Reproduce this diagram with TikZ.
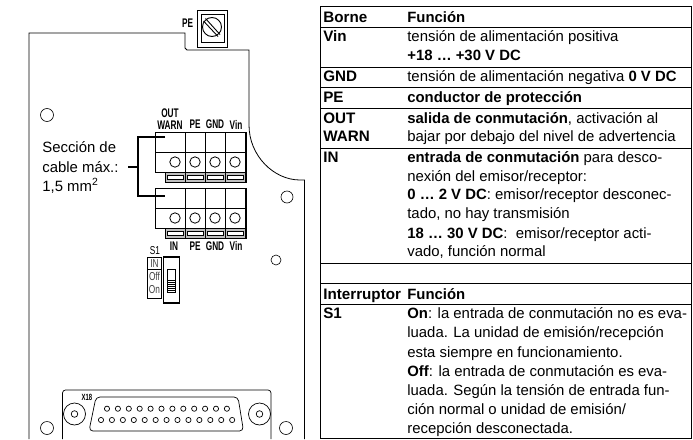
\documentclass[tikz,border=0pt]{standalone}
\usepackage{fontspec}
\setmainfont{Liberation Sans}
\tikzset{
  celltext/.style={anchor=base west,inner sep=0pt,font=\fontsize{14.9}{17}\selectfont},
  celltitle/.style={celltext,font=\fontsize{15.2}{17}\selectfont\bfseries},
  terminaltext/.style={inner sep=0pt,font=\fontsize{12.5}{14}\selectfont\bfseries,xscale=.66,transform shape},
  switchtext/.style={inner sep=0pt,text=black!75,font=\fontsize{11.5}{13}\selectfont,xscale=.72,transform shape},
  hole/.style={draw,line width=.6pt}
}
\begin{document}
\begin{tikzpicture}[x=1pt,y=-1pt,line width=.7pt]
  \useasboundingbox (0,0) rectangle (693,439);
  % housing
  \draw[line width=.8pt] (29,439)--(29,33)--(185,33)--(185,48)--(187,50)--(249,50)--(249,125)
    .. controls (249,156) and (274,180) .. (300,180)--(304.5,180)--(304.5,439);
  \foreach \x/\y/\r in {47/115/6.5, 287/197/6, 276/260/5, 47/428/6.5, 286/428/6.5}{
    \draw[hole] (\x,\y) circle[radius=\r pt];
  }
  % PE screw
  \draw[line width=1pt,fill=white] (197.5,10) rectangle (227.5,47.5);
  \draw[line width=.9pt] (201,14) rectangle (224,42);
  \draw[line width=.9pt] (212,27) circle[radius=9.5pt];
  \draw[line width=.9pt] (205.5,18.5)--(220,34.5) (203.5,21)--(218,36.5);
  \node[terminaltext](Nscrew) at (187.5,23){PE};
  % terminal blocks
  \foreach \t in {132,188}{
    \draw[line width=1pt] (155,\t) rectangle (246,\t+40);
    \draw[line width=.9pt] (155,\t+20)--(246,\t+20);
    \draw[line width=1pt,fill=black!25] (165,\t+40) rectangle (246,\t+50);
    \foreach \x in {175,195,215,235}{
      \draw[line width=1pt] (\x+10,\t)--(\x+10,\t+50);
      \draw[line width=.8pt] (\x,\t+30) circle[radius=5.2pt];
      \draw[line width=.5pt,fill=white] (\x-8,\t+43.5) rectangle (\x+8,\t+47);
    }
  }
  \foreach \x/\t in {195/PE, 215/GND, 236/Vin}{
    \node[terminaltext](Ntop\t) at (\x,124.5){\t};
    \node[terminaltext](Nbot\t) at (\x,246){\t};
  }
  \node[terminaltext](Nwarn) at (170,125){WARN};
  \node[terminaltext](Nout) at (170,113.5){OUT};
  \node[terminaltext](Nin) at (174,246){IN};
  % cable note
  \node[celltext](Nsec) at (42,152){Sección de};
  \node[celltext](Ncab) at (42,172){cable máx.:};
  \node[celltext](Nmm) at (42,191){1,5 mm\textsuperscript{2}};
  \draw[line width=1.3pt] (165,137)--(138,137)--(138,196)--(165,196) (128,167)--(138,167);
  % switch S1
  \node[switchtext,text=black](Ns) at (155,251){S1};
  \draw (147.5,257) rectangle (161.5,298.5) (147.5,269)--(161.5,269);
  \foreach \y/\t in {263.5/IN, 276/Off, 290/On}{
    \node[switchtext](N\t) at (154.5,\y){\t};
  }
  \draw[line width=1.1pt] (163.5,257) rectangle (179.5,303);
  \draw[line width=.8pt] (167,269.5) rectangle (175.5,292);
  \foreach \y in {280,282,...,291}{
    \draw[line width=1pt] (167,\y)--(175.5,\y);
  }
  % connector X18
  \draw[rounded corners=3pt] (62.5,439)--(62.5,390)--(271,390)--(271,439);
  \draw[rounded corners=4pt] (96,397)--(238,397)--(243.5,431)--(89,431)--cycle;
  \foreach \x in {74.5,259.5}{
    \draw (\x,414) circle[radius=11pt] (\x,414) circle[radius=3.3pt];
  }
  \foreach \i in {0,...,11}{
    \draw (107+10.9*\i,408.7) circle[radius=2.6pt];
  }
  \foreach \i in {0,...,12}{
    \draw (101+10.93*\i,420) circle[radius=2.6pt];
  }
  \node[terminaltext,font=\fontsize{9}{11}\selectfont\bfseries](Nx) at (87,397){X18};
  % table
  \draw[line width=.9pt] (320,6.5) rectangle (691,438);
  \foreach \y in {27,67,87,108,148,263,283,304}{
    \draw[line width=.9pt] (320,\y)--(691,\y);
  }
  \foreach \i/\y/\t in {1/22/Borne, 2/41/Vin, 3/81/GND, 4/102/PE, 5/123/OUT, 6/141/WARN, 7/162/IN, 8/299/Interruptor, 9/318/S1}{
    \node[celltitle](A\i) at (323,\y){\t};
  }
  \foreach \i/\y/\t in {
    1/22/{\textbf{Función}},
    2/41/{tensión de alimentación positiva},
    3/60/{\textbf{+18 … +30 V DC}},
    4/81/{tensión de alimentación negativa \textbf{0 V DC}},
    5/102/{\textbf{conductor de protección}},
    6/123/{\textbf{salida de conmutación}, activación al},
    7/141/{bajar por debajo del nivel de advertencia},
    8/162/{\textbf{entrada de conmutación} para desco-},
    9/181/{nexión del emisor/receptor:},
    10/199/{\textbf{0 … 2 V DC}: emisor/receptor desconec-},
    11/218/{tado, no hay transmisión},
    12/238/{\textbf{18 … 30 V DC}:\ \ emisor/receptor acti-},
    13/256/{vado, función normal},
    14/299/{\textbf{Función}},
    15/318/{\textbf{On}: la entrada de conmutación no es eva-},
    16/337/{luada. La unidad de emisión/recepción},
    17/357/{esta siempre en funcionamiento.},
    18/376/{\textbf{Off}: la entrada de conmutación es eva-},
    19/395/{luada. Según la tensión de entrada fun-},
    20/414/{ción normal o unidad de emisión/},
    21/433/{recepción desconectada.}}{
    \node[celltext](B\i) at (407,\y){\t};
  }
\end{tikzpicture}
\end{document}
